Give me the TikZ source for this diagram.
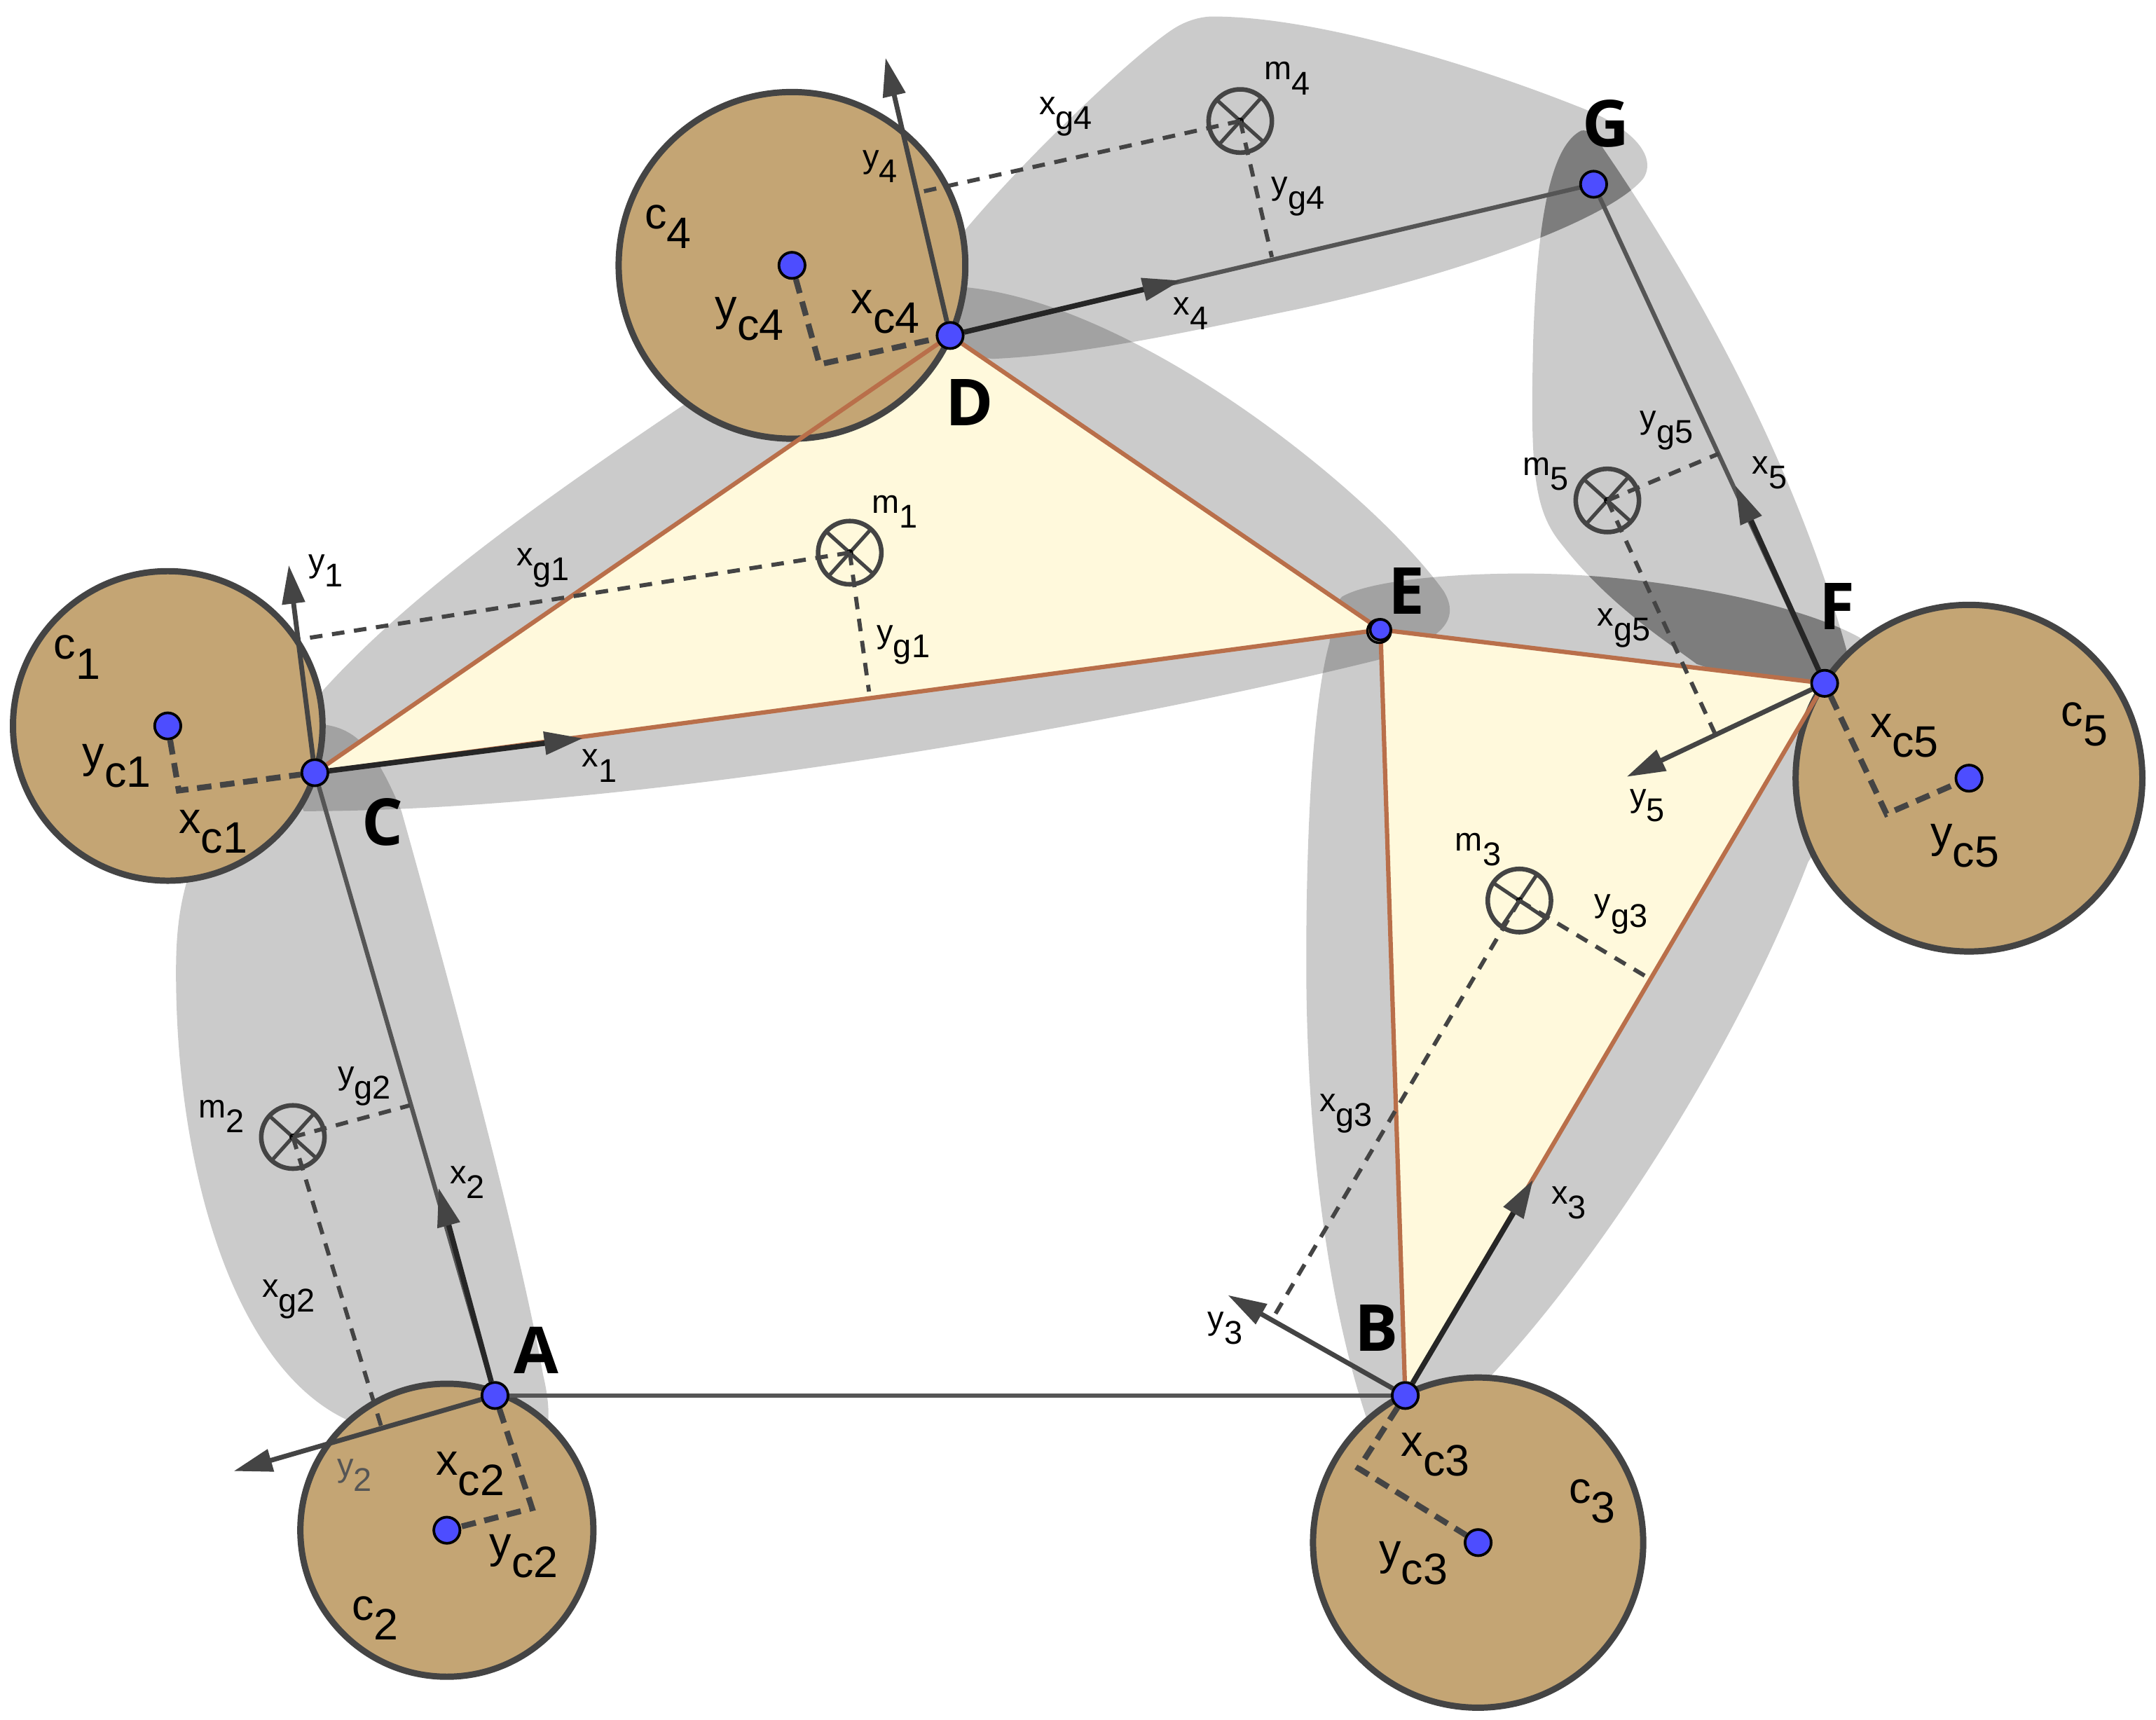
\documentclass[tikz,border=0pt]{standalone}
\usepackage{fontspec}
\setmainfont{Liberation Sans}
\newfontfamily\boldlab{Open Sans}[BoldFont={Open Sans Bold}]
\usetikzlibrary{arrows.meta}
\pgfdeclarelayer{blobs}
\pgfdeclarelayer{top}
\pgfsetlayers{blobs,main,top}
\definecolor{wheel}{HTML}{C4A574}
\definecolor{edge}{HTML}{444444}
\definecolor{tribg}{HTML}{FFF9DC}
\definecolor{brownl}{HTML}{B96F4A}
\definecolor{joint}{HTML}{4D4DFF}
\definecolor{lnk}{HTML}{555555}
\newcommand{\lb}[2]{#1\raisebox{-.45em}{#2}}
\tikzset{
  blobfill/.style={fill=black,fill opacity=.205},
  wheelc/.style={circle,draw=edge,fill=wheel,line width=1.3pt,inner sep=0pt},
  jointc/.style={circle,draw=black,fill=joint,line width=.55pt,inner sep=0pt,minimum size=.19cm},
  massc/.style={circle,draw=edge,line width=.95pt,inner sep=0pt,minimum size=.46cm},
  crossl/.style={draw=edge,line width=.75pt},
  triedge/.style={draw=brownl,line width=.9pt},
  linkl/.style={draw=lnk,line width=.9pt},
  axisy/.style={draw=edge,line width=1pt,-{Triangle[length=8pt,width=4.6pt,color=edge]}},
  axisx/.style={draw=black!85,line width=1.1pt,-{Triangle[length=8pt,width=4.6pt,color=edge]}},
  dashm/.style={draw=edge,line width=.85pt,dash pattern=on 2.6pt off 2pt},
  dashk/.style={draw=edge,line width=1.2pt,dash pattern=on 3pt off 1.8pt},
  smalll/.style={inner sep=0pt,font=\fontsize{6.8}{8}\selectfont},
  bigl/.style={inner sep=0pt,font=\fontsize{9.1}{11}\selectfont},
  jointl/.style={inner sep=0pt,font=\boldlab\bfseries\fontsize{13.4}{15}\selectfont},
}
\def\blobOne{(221,590) .. controls (450,590) and (800,530) .. (1002,480) .. controls (1040,468) and (1065,455) .. (1050,430) .. controls (1000,360) and (830,222) .. (703,209) -- (640,230) -- (498,294) .. controls (400,360) and (300,430) .. (235,502) -- (205,560) -- cycle}
\def\blobTwo{(215,525) -- (235,527) .. controls (262,530) and (275,550) .. (292,590) .. controls (320,690) and (375,890) .. (395,1000) .. controls (402,1030) and (400,1050) .. (385,1060) -- (253,1033) .. controls (170,995) and (128,850) .. (128,707) .. controls (128,660) and (135,640) .. (150,600) -- cycle}
\def\blobThree{(976,434) .. controls (1000,420) and (1080,415) .. (1142,418) .. controls (1220,422) and (1310,440) .. (1353,464) -- (1370,540) -- (1315,627) .. controls (1260,770) and (1160,920) .. (1084,1001) -- (1030,1050) -- (994,1032) .. controls (960,930) and (950,800) .. (950,700) .. controls (950,600) and (955,510) .. (967,467) .. controls (968,450) and (970,440) .. (976,434) -- cycle}
\def\blobFour{(882,12) .. controls (960,12) and (1080,50) .. (1154,80) .. controls (1190,95) and (1205,115) .. (1195,130) .. controls (1170,160) and (1060,200) .. (943,225) .. controls (870,240) and (790,258) .. (722,261) -- (670,255) -- (680,190) -- (703,166) .. controls (750,110) and (830,35) .. (855,20) .. controls (865,14) and (875,12) .. (882,12) -- cycle}
\def\blobFive{(1150,95) .. controls (1130,105) and (1118,150) .. (1115,250) .. controls (1113,340) and (1115,370) .. (1135,395) .. controls (1170,440) and (1210,465) .. (1234,483) -- (1330,515) -- (1343,473) .. controls (1320,390) and (1270,260) .. (1166,108) .. controls (1160,98) and (1155,94) .. (1150,95) -- cycle}
\begin{document}
\begin{tikzpicture}[x=.01cm,y=-.01cm]
\useasboundingbox (0,0) rectangle (1568,1251);
% joints
\begin{pgfonlayer}{top}
\node[circle,draw=black,line width=.5pt,inner sep=0pt,minimum size=.17cm] (pEb) at (1003,459) {};
\node[jointc] (pA) at (360,1015) {};
\node[jointc] (pB) at (1022,1015) {};
\node[jointc] (pC) at (229,562) {};
\node[jointc] (pD) at (691,244) {};
\node[jointc,minimum size=.15cm] (pE) at (1004,458) {};
\node[jointc] (pF) at (1327,497) {};
\node[jointc] (pG) at (1159,134) {};
\node[jointc] (o1) at (122,528) {};
\node[jointc] (o2) at (325,1113) {};
\node[jointc] (o3) at (1075,1122) {};
\node[jointc] (o4) at (576,193) {};
\node[jointc] (o5) at (1432,566) {};
\end{pgfonlayer}
% gray zones
\begin{pgfonlayer}{blobs}
\fill[blobfill] \blobOne;
\fill[blobfill] \blobTwo;
\fill[blobfill] \blobThree;
\fill[blobfill] \blobFour;
\fill[blobfill] \blobFive;
\begin{scope}
\path[clip] \blobFive;
\fill[black,fill opacity=.23] \blobThree;
\fill[black,fill opacity=.23] \blobFour;
\end{scope}
\end{pgfonlayer}
% triangles
\fill[tribg] (pC.center) -- (pD.center) -- (pE.center) -- cycle;
\fill[tribg] (pE.center) -- (pF.center) -- (pB.center) -- cycle;
% wheels
\node[wheelc,minimum size=2.25cm] (w1) at (o1) {};
\node[wheelc,minimum size=2.13cm] (w2) at (o2) {};
\node[wheelc,minimum size=2.40cm] (w3) at (o3) {};
\node[wheelc,minimum size=2.52cm] (w4) at (o4) {};
\node[wheelc,minimum size=2.52cm] (w5) at (o5) {};
% triangle edges
\draw[triedge] (pC) -- (pD);
\draw[triedge] (pD) -- (pE);
\draw[triedge] (pE) -- (pC);
\draw[triedge] (pE) -- (pF);
\draw[triedge] (pF) -- (pB);
\draw[triedge] (pB) -- (pE);
% links
\draw[linkl] (pC) -- (pA);
\draw[linkl] (pA) -- (pB);
\draw[linkl] (pD) -- (pG);
\draw[linkl] (pG) -- (pF);
% axis ends
\coordinate (tx1) at (424,537);
\coordinate (ty1) at (210,411);
\coordinate (tx2) at (319,864);
\coordinate (ty2) at (170,1070);
\coordinate (tx3) at (1115,858);
\coordinate (ty3) at (893,942);
\coordinate (tx4) at (859,204);
\coordinate (ty4) at (644,42);
\coordinate (tx5) at (1262,353);
\coordinate (ty5) at (1183,565);
\draw[axisx] (pC) -- (tx1);
\draw[axisy] (pC) -- (ty1);
\draw[axisx] (pA) -- (tx2);
\draw[axisy] (pA) -- (ty2);
\draw[axisx] (pB) -- (tx3);
\draw[axisy] (pB) -- (ty3);
\draw[axisx] (pD) -- (tx4);
\draw[axisy] (pD) -- (ty4);
\draw[axisx] (pF) -- (tx5);
\draw[axisy] (pF) -- (ty5);
% masses
\node[massc] (m1) at (618,402) {};
\node[massc] (m2) at (213,827) {};
\node[massc] (m3) at (1105,655) {};
\node[massc] (m4) at (902,88) {};
\node[massc] (m5) at (1169,364) {};
\foreach \m/\a in {m1/42,m2/42,m3/34,m4/42,m5/42}{
  \draw[crossl] (\m.center) ++(\a:23) -- ++(\a+180:46);
  \draw[crossl] (\m.center) ++(\a+90:23) -- ++(\a+270:46);
  \fill[black] (\m.center) circle[radius=2.5];
}
% dashed offsets
\coordinate (gx1) at (218,465);
\coordinate (gy1) at (632,503);
\coordinate (gx2) at (278,1040);
\coordinate (gy2) at (298,804);
\coordinate (gx3) at (925,960);
\coordinate (gy3) at (1200,712);
\coordinate (gx4) at (668,140);
\coordinate (gy4) at (925,187);
\coordinate (gx5) at (1247,533);
\coordinate (gy5) at (1250,330);
\draw[dashm] (m1.center) -- (gx1);
\draw[dashm] (m1.center) -- (gy1);
\draw[dashm] (m2.center) -- (gx2);
\draw[dashm] (m2.center) -- (gy2);
\draw[dashm] (m3.center) -- (gx3);
\draw[dashm] (m3.center) -- (gy3);
\draw[dashm] (m4.center) -- (gx4);
\draw[dashm] (m4.center) -- (gy4);
\draw[dashm] (m5.center) -- (gx5);
\draw[dashm] (m5.center) -- (gy5);
% wheel centre offsets
\coordinate (k1) at (130,575);
\coordinate (k2) at (387,1097);
\coordinate (k3) at (988,1068);
\coordinate (k4) at (596,265);
\coordinate (k5) at (1372,592);
\draw[dashk] (o1) -- (k1) -- (pC);
\draw[dashk] (pA) -- (k2) -- (o2);
\draw[dashk] (pB) -- (k3) -- (o3);
\draw[dashk] (o4) -- (k4) -- (pD);
\draw[dashk] (pF) -- (k5) -- (o5);
% labels
\node[jointl] (lA) at (390,982) {\textbf{A}};
\node[jointl] (lB) at (1001,966) {\textbf{B}};
\node[jointl] (lC) at (278,598) {\textbf{C}};
\node[jointl] (lD) at (705,293) {\textbf{D}};
\node[jointl] (lE) at (1023,430) {\textbf{E}};
\node[jointl] (lF) at (1336,441) {\textbf{F}};
\node[jointl] (lG) at (1168,90) {\textbf{G}};
\node[bigl] (c1l) at (56,478) {\lb{c}{1}};
\node[bigl] (c2l) at (273,1177) {\lb{c}{2}};
\node[bigl] (c3l) at (1158,1092) {\lb{c}{3}};
\node[bigl] (c4l) at (486,165) {\lb{c}{4}};
\node[bigl] (c5l) at (1516,527) {\lb{c}{5}};
\node[bigl] (xc1l) at (155,605) {\lb{x}{c1}};
\node[bigl] (yc1l) at (85,557) {\lb{y}{c1}};
\node[bigl] (xc2l) at (342,1072) {\lb{x}{c2}};
\node[bigl] (yc2l) at (381,1132) {\lb{y}{c2}};
\node[bigl] (xc3l) at (1044,1058) {\lb{x}{c3}};
\node[bigl] (yc3l) at (1028,1137) {\lb{y}{c3}};
\node[bigl] (xc4l) at (644,227) {\lb{x}{c4}};
\node[bigl] (yc4l) at (545,232) {\lb{y}{c4}};
\node[bigl] (xc5l) at (1385,535) {\lb{x}{c5}};
\node[bigl] (yc5l) at (1429,615) {\lb{y}{c5}};
\node[smalll] (x1l) at (436,557) {\lb{x}{1}};
\node[smalll] (y1l) at (237,415) {\lb{y}{1}};
\node[smalll] (xg1l) at (395,413) {\lb{x}{g1}};
\node[smalll] (yg1l) at (657,469) {\lb{y}{g1}};
\node[smalll] (m1l) at (651,372) {\lb{m}{1}};
\node[smalll] (x2l) at (340,860) {\lb{x}{2}};
\node[smalll,text=lnk] (y2l) at (258,1073) {\lb{y}{2}};
\node[smalll] (xg2l) at (210,945) {\lb{x}{g2}};
\node[smalll] (yg2l) at (265,790) {\lb{y}{g2}};
\node[smalll] (m2l) at (161,812) {\lb{m}{2}};
\node[smalll] (x3l) at (1141,875) {\lb{x}{3}};
\node[smalll] (y3l) at (891,966) {\lb{y}{3}};
\node[smalll] (xg3l) at (979,810) {\lb{x}{g3}};
\node[smalll] (yg3l) at (1179,665) {\lb{y}{g3}};
\node[smalll] (m3l) at (1075,618) {\lb{m}{3}};
\node[smalll] (x4l) at (866,228) {\lb{x}{4}};
\node[smalll] (y4l) at (640,121) {\lb{y}{4}};
\node[smalll] (xg4l) at (775,85) {\lb{x}{g4}};
\node[smalll] (yg4l) at (944,143) {\lb{y}{g4}};
\node[smalll] (m4l) at (936,57) {\lb{m}{4}};
\node[smalll] (x5l) at (1287,344) {\lb{x}{5}};
\node[smalll] (y5l) at (1198,586) {\lb{y}{5}};
\node[smalll] (xg5l) at (1181,457) {\lb{x}{g5}};
\node[smalll] (yg5l) at (1212,313) {\lb{y}{g5}};
\node[smalll] (m5l) at (1124,345) {\lb{m}{5}};
\end{tikzpicture}
\end{document}
